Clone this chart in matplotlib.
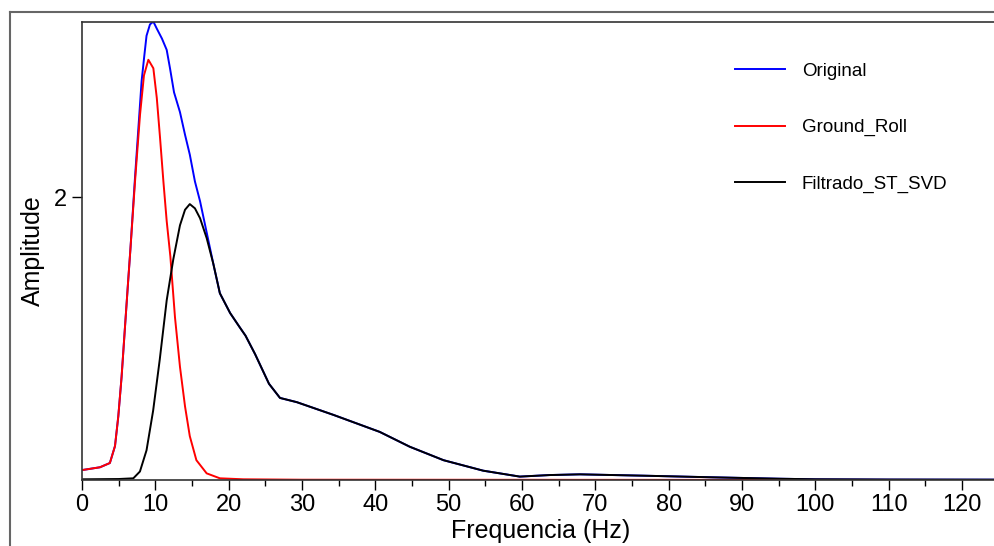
import matplotlib
matplotlib.use('Agg')
import matplotlib.pyplot as plt
from matplotlib.lines import Line2D

plt.rcParams['font.family'] = ['Liberation Sans', 'DejaVu Sans']

# valores
freq_orig = [0, 2.45, 3.8, 4.5, 4.95, 5.4, 5.86, 6.3, 6.6, 7.23, 7.6, 8.13, 8.5, 8.8,
             9.27, 9.73, 10.2, 10.9, 11.55, 12.0, 12.55, 13.36, 14.05, 14.7, 15.4,
             16.1, 17.0, 17.9, 18.8, 20.2, 21.5, 22.3, 23.6, 25.5, 27.0, 29.3, 34.3,
             40.6, 44.7, 49.3, 54.7, 59.7, 63.8, 67.9, 77, 86, 95, 100, 110, 130]
amp_orig = [0.07, 0.09, 0.12, 0.24, 0.45, 0.73, 1.08, 1.41, 1.63, 2.14, 2.42, 2.82,
            3.0, 3.14, 3.22, 3.24, 3.19, 3.12, 3.04, 2.91, 2.74, 2.60, 2.44, 2.30,
            2.11, 1.97, 1.75, 1.53, 1.32, 1.18, 1.08, 1.02, 0.89, 0.68, 0.58, 0.55,
            0.46, 0.34, 0.235, 0.14, 0.066, 0.024, 0.035, 0.04, 0.03, 0.019, 0.009,
            0.005, 0.003, 0.002]

freq_gr = [0, 2.45, 3.8, 4.5, 4.95, 5.4, 5.86, 6.3, 6.6, 7.23, 7.91, 8.45, 9.05, 9.73,
           10.2, 10.64, 11.1, 11.55, 12.05, 12.68, 13.36, 14.05, 14.7, 15.6, 17.0,
           18.8, 22, 30, 130]
amp_gr = [0.07, 0.09, 0.12, 0.24, 0.45, 0.73, 1.08, 1.41, 1.63, 2.11, 2.58, 2.86,
          2.97, 2.91, 2.70, 2.42, 2.11, 1.83, 1.58, 1.15, 0.80, 0.52, 0.31, 0.14,
          0.047, 0.012, 0.005, 0.002, 0.0]

freq_filt = [0, 5, 7.0, 7.9, 8.8, 9.7, 10.6, 11.55, 12.45, 13.36, 14.05, 14.7, 15.4,
             16.1, 17.0, 17.9, 18.8, 20.2, 21.5, 22.3, 23.6, 25.5, 27.0, 29.3, 34.3,
             40.6, 44.7, 49.3, 54.7, 59.7, 63.8, 67.9, 77, 86, 95, 100, 110, 130]
amp_filt = [0.005, 0.007, 0.012, 0.06, 0.21, 0.49, 0.85, 1.27, 1.56, 1.80, 1.91, 1.95,
            1.92, 1.85, 1.71, 1.53, 1.32, 1.18, 1.08, 1.02, 0.89, 0.68, 0.58, 0.55,
            0.46, 0.34, 0.235, 0.14, 0.066, 0.024, 0.035, 0.04, 0.03, 0.019, 0.009,
            0.005, 0.003, 0.002]

labels = ['Original', 'Ground_Roll', 'Filtrado_ST_SVD']
colors = ['#0000ff', '#ff0000', '#000000']

fig = plt.figure(figsize=(9.95, 5.46), dpi=100)
W, H = 995.0, 546.0
x0, x1 = 82, 82 + 7.333 * 125
ax = fig.add_axes([x0 / W, 66 / H, (x1 - x0) / W, 458 / H])

ax.plot(freq_orig, amp_orig, color=colors[0], lw=1.4)
ax.plot(freq_gr, amp_gr, color=colors[1], lw=1.4)
ax.plot(freq_filt, amp_filt, color=colors[2], lw=1.4)

ax.set_xlim(0, 125)
ax.set_ylim(0, 3.237)
ax.set_xticks(range(0, 130, 10))
ax.set_xticks(range(5, 130, 10), minor=True)
ax.set_yticks([2])
ax.tick_params(axis='both', which='major', length=7, width=1, labelsize=17, pad=3)
ax.tick_params(axis='x', which='minor', length=4, width=1)
ax.tick_params(axis='y', which='major', length=7, labelsize=17, pad=4)
for s in ax.spines.values():
    s.set_linewidth(1.2)
    s.set_color('#333333')
ax.set_xlabel('Frequencia (Hz)', fontsize=18, labelpad=2)
ax.set_ylabel('Amplitude', fontsize=18, labelpad=6)

handles = [Line2D([], [], color=c, lw=1.4) for c in colors]
fig.legend(handles, labels, loc='upper left', bbox_to_anchor=(735 / W, 1 - 62.5 / H),
           frameon=False, fontsize=13.5, handlelength=2.67, handletextpad=0.9,
           labelspacing=2.1, borderpad=0, borderaxespad=0)

# moldura externa
fig.add_artist(Line2D([10 / W, 10 / W], [0, 1 - 12 / H], color='#666666', lw=1.5))
fig.add_artist(Line2D([10 / W, 1], [1 - 12 / H, 1 - 12 / H], color='#666666', lw=1.5))

fig.savefig('out.png', dpi=100)
